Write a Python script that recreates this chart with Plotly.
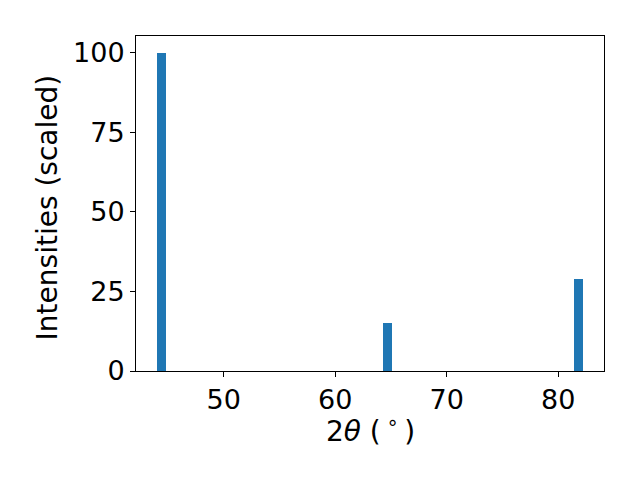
import plotly.graph_objects as go

two_theta = [44.45, 64.66, 81.79]
intensity = [100, 15.1, 28.9]
bar_width = 0.8
x_ticks = [50, 60, 70, 80]
y_ticks = [0, 25, 50, 75, 100]

fig = go.Figure(go.Bar(x=two_theta, y=intensity, width=[bar_width]*len(two_theta),
                       marker=dict(color="#1f77b4", line=dict(width=0))))

font = dict(family="DejaVu Sans", size=27, color="black")
label_font = dict(family="DejaVu Sans", size=28, color="black")
fig.update_layout(
    width=640, height=480, margin=dict(l=128, r=44, t=28, b=117, autoexpand=False),
    paper_bgcolor="white", plot_bgcolor="white", showlegend=False, font=font,
    bargap=0,
)
fig.update_xaxes(range=[42.14, 84.1], tickvals=x_ticks, ticks="outside", ticklen=5, tickwidth=1,
                 tickcolor="black", showline=True, linecolor="black", linewidth=1, mirror=True,
                 showgrid=False, zeroline=False, tickfont=font, automargin=False)
fig.update_yaxes(range=[0, 105.3], tickvals=y_ticks, ticks="outside", ticklen=5, tickwidth=1,
                 tickcolor="black", showline=True, linecolor="black", linewidth=1, mirror=True,
                 showgrid=False, zeroline=False, tickfont=font, automargin=False)
fig.add_annotation(text="2<i>θ</i> (\u2009<sup>∘</sup>\u2009)", xref="paper", yref="paper",
                   x=0.5, y=-0.176, xanchor="center", yanchor="middle", showarrow=False, font=label_font)
fig.add_annotation(text="Intensities (scaled)", xref="paper", yref="paper", textangle=-90,
                   x=-0.189, y=0.487, xanchor="center", yanchor="middle", showarrow=False, font=label_font)
fig.write_html("out.html")
